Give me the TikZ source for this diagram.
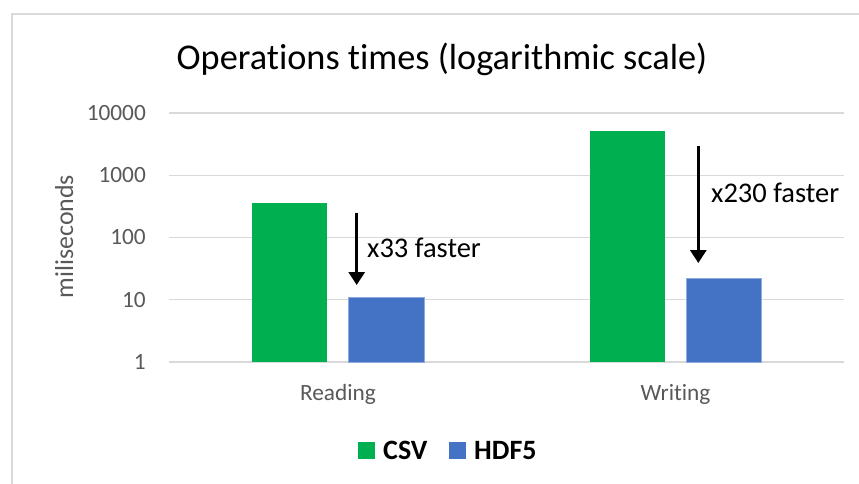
\documentclass[tikz,border=0pt]{standalone}
\usepackage{fontspec}
\setmainfont{Carlito}[Ligatures=NoCommon]
\usetikzlibrary{arrows.meta}

\definecolor{csvgreen}{HTML}{00B050}
\definecolor{hdfblue}{HTML}{4472C4}
\definecolor{hdfedge}{HTML}{8FAADC}
\definecolor{gridgray}{HTML}{D9D9D9}
\definecolor{labelgray}{HTML}{595959}

\tikzset{
  gridline/.style={draw=gridgray, line width=1.3pt},
  ticklabel/.style={anchor=base east, inner sep=0pt, text=labelgray, font=\fontsize{23.3}{28}\selectfont},
  catlabel/.style={anchor=base, inner sep=0pt, text=labelgray, font=\fontsize{23.3}{28}\selectfont},
  notelabel/.style={anchor=base west, inner sep=0pt, font=\fontsize{28.5}{34}\selectfont},
  keylabel/.style={anchor=base west, inner sep=0pt, font=\bfseries\fontsize{28}{34}\selectfont},
  speedup/.style={line width=3pt, -{Triangle[width=16pt,length=13pt]}},
}

\begin{document}
\begin{tikzpicture}[x=1pt, y=-1pt]

        %Canvas and chart frame
        \useasboundingbox [fill=white] (0,0) rectangle (859,484);
        \draw [gridgray, line width=2pt]  (12,14) rectangle (866,492);

        %Title
        \node [anchor=base, inner sep=0pt, font=\fontsize{36.3}{44}\selectfont] (title) at (442,70) {Operations times (logarithmic scale)};

        %Grid lines and tick labels
        \foreach \k/\val in {0/1, 1/10, 2/100, 3/1000, 4/10000} {
          \draw [gridline]  (169,{362-62.25*\k}) -- (844,{362-62.25*\k});
          \node [ticklabel] (tick\k) at (146,{369.4-62.25*\k}) {\val};
        }

        %Axis title
        \node [rotate=90, anchor=base, inner sep=0pt, text=labelgray, font=\fontsize{25.9}{31}\selectfont] (ylabel) at (73,236.5) {miliseconds};

        %Reading bars
        \fill [csvgreen]                      (252,362) rectangle (327,202.7);
        \draw [fill=hdfblue, draw=hdfedge, line width=0.8pt]  (348,362) rectangle (424,297.3);
        \node [catlabel] (reading) at (338,400) {Reading};

        %Writing bars
        \fill [csvgreen]                      (590,362) rectangle (665,130.7);
        \draw [fill=hdfblue, draw=hdfedge, line width=0.8pt]  (686,362) rectangle (761,278.3);
        \node [catlabel] (writing) at (675.5,400) {Writing};

        %Speed-up arrows
        \coordinate (readfrom)  at (356.7,212.7);
        \coordinate (readto)    at (356.7,285);
        \draw [speedup] (readfrom) -- (readto);
        \node [notelabel] (readnote) at (367,257) {x33 faster};

        \coordinate (writefrom) at (698.3,146);
        \coordinate (writeto)   at (698.3,263);
        \draw [speedup] (writefrom) -- (writeto);
        \node [notelabel] (writenote) at (711,202.3) {x230 faster};

        %Legend
        \fill [csvgreen]  (358,442) rectangle (375,459);
        \node [keylabel] (csvkey) at (383,459) {CSV};
        \fill [hdfblue]   (449,442) rectangle (466,459);
        \node [keylabel] (hdfkey) at (474,459) {HDF5};

\end{tikzpicture}
\end{document}
